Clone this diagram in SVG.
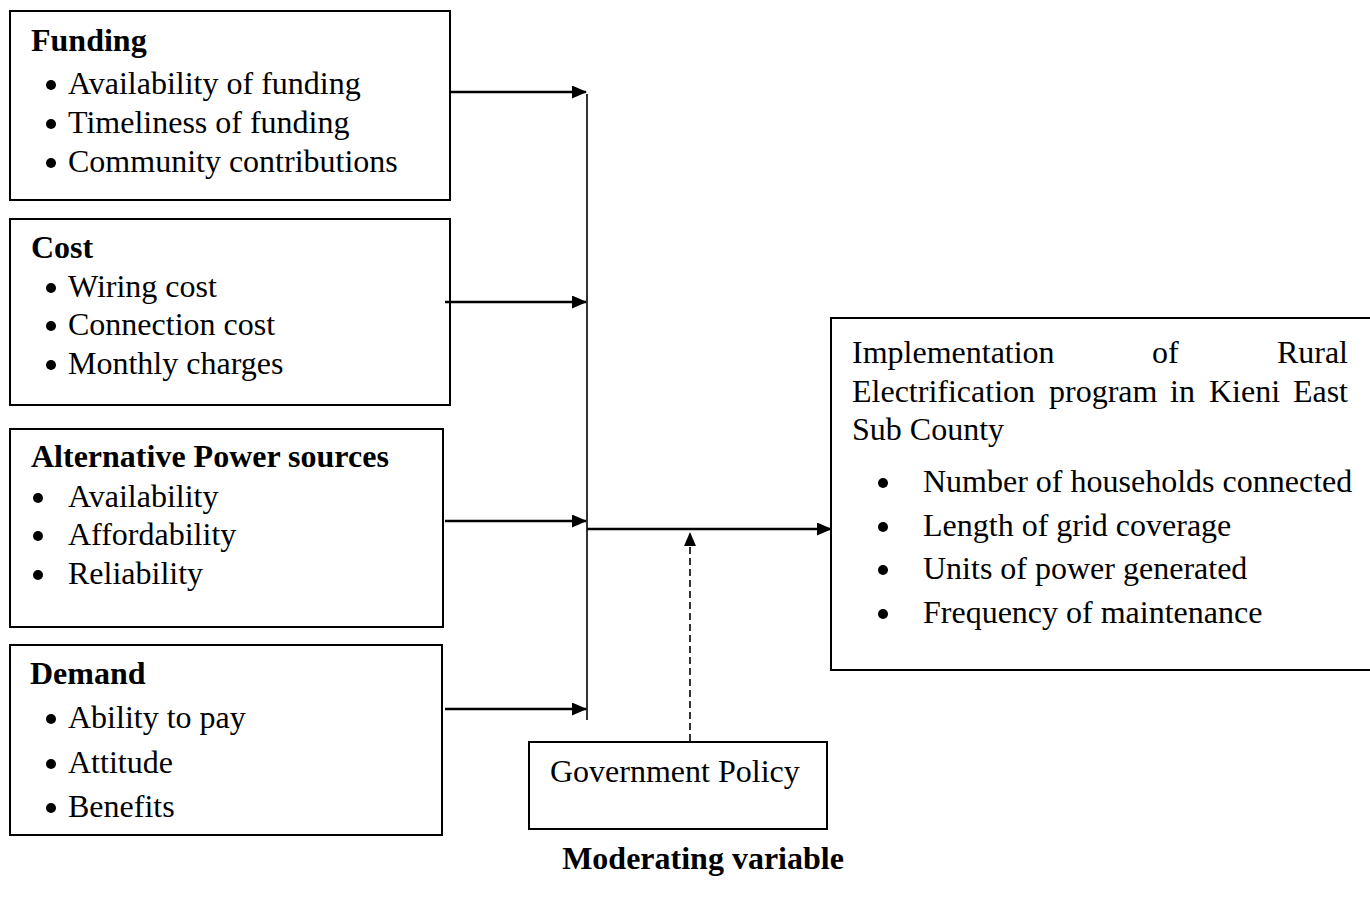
<svg xmlns="http://www.w3.org/2000/svg" width="1370" height="919" viewBox="0 0 1370 919">
<style>
.box{fill:#fff;stroke:#000;stroke-width:2}
text{font-family:"Liberation Serif","Times New Roman",serif;font-size:32px;fill:#000}
.b{font-weight:bold}
.ln{stroke:#000;stroke-width:2.5;fill:none}
.dot{fill:#000}
</style>
<defs>
<marker id="ah" markerWidth="15" markerHeight="13" refX="14" refY="6.5" orient="auto" markerUnits="userSpaceOnUse"><path d="M0,0 L15,6.5 L0,13 z" fill="#000"/></marker>
<marker id="ahd" markerWidth="14" markerHeight="12" refX="13" refY="6" orient="auto" markerUnits="userSpaceOnUse"><path d="M0,0 L14,6 L0,12 z" fill="#000"/></marker>
</defs>
<rect width="1370" height="919" fill="#fff"/>
<g id="funding">
<rect class="box" x="10" y="11" width="440" height="189"/>
<text class="b" x="31" y="51">Funding</text>
<circle class="dot" cx="51" cy="85" r="5"/><text x="68" y="94">Availability of funding</text>
<circle class="dot" cx="51" cy="124" r="5"/><text x="68" y="133">Timeliness of funding</text>
<circle class="dot" cx="51" cy="163" r="5"/><text x="68" y="172">Community contributions</text>
</g>
<g id="cost">
<rect class="box" x="10" y="219" width="440" height="186"/>
<text class="b" x="31" y="258">Cost</text>
<circle class="dot" cx="51" cy="288" r="5"/><text x="68" y="297">Wiring cost</text>
<circle class="dot" cx="51" cy="326" r="5"/><text x="68" y="335">Connection cost</text>
<circle class="dot" cx="51" cy="365" r="5"/><text x="68" y="374">Monthly charges</text>
</g>
<g id="alternative">
<rect class="box" x="10" y="429" width="433" height="198"/>
<text class="b" x="31" y="467">Alternative Power sources</text>
<circle class="dot" cx="38" cy="498" r="5"/><text x="68" y="507">Availability</text>
<circle class="dot" cx="38" cy="536" r="5"/><text x="68" y="545">Affordability</text>
<circle class="dot" cx="38" cy="575" r="5"/><text x="68" y="584">Reliability</text>
</g>
<g id="demand">
<rect class="box" x="10" y="645" width="432" height="190"/>
<text class="b" x="30" y="684">Demand</text>
<circle class="dot" cx="51" cy="719" r="5"/><text x="68" y="728">Ability to pay</text>
<circle class="dot" cx="51" cy="764" r="5"/><text x="68" y="773">Attitude</text>
<circle class="dot" cx="51" cy="808" r="5"/><text x="68" y="817">Benefits</text>
</g>
<g id="government">
<rect class="box" x="529" y="742" width="298" height="87"/>
<text x="550" y="782">Government Policy</text>
</g>
<g id="implementation">
<rect class="box" x="831" y="318" width="545" height="352"/>
<text x="852" y="363">Implementation</text>
<text x="1152" y="363">of</text>
<text x="1348" y="363" text-anchor="end">Rural</text>
<text x="852" y="402">Electrification</text>
<text x="1049" y="402">program</text>
<text x="1170" y="402">in</text>
<text x="1209" y="402">Kieni</text>
<text x="1348" y="402" text-anchor="end">East</text>
<text x="852" y="440">Sub County</text>
<circle class="dot" cx="883" cy="483" r="5"/><text x="923" y="492">Number of households connected</text>
<circle class="dot" cx="883" cy="527" r="5"/><text x="923" y="536">Length of grid coverage</text>
<circle class="dot" cx="883" cy="570" r="5"/><text x="923" y="579">Units of power generated</text>
<circle class="dot" cx="883" cy="614" r="5"/><text x="923" y="623">Frequency of maintenance</text>
</g>
<g id="connectors">
<line class="ln" x1="450" y1="92" x2="586" y2="92" marker-end="url(#ah)"/>
<line class="ln" x1="445" y1="302" x2="586" y2="302" marker-end="url(#ah)"/>
<line class="ln" x1="445" y1="521" x2="586" y2="521" marker-end="url(#ah)"/>
<line class="ln" x1="445" y1="709" x2="586" y2="709" marker-end="url(#ah)"/>
<line x1="587" y1="94" x2="587" y2="720" stroke="#000" stroke-width="1.6"/>
<line class="ln" x1="587" y1="529" x2="831" y2="529" marker-end="url(#ah)"/>
<line x1="690" y1="741" x2="690" y2="533" stroke="#000" stroke-width="1.6" stroke-dasharray="7,4" marker-end="url(#ahd)"/>
</g>
<text class="b" x="703" y="869" text-anchor="middle">Moderating variable</text>
</svg>
